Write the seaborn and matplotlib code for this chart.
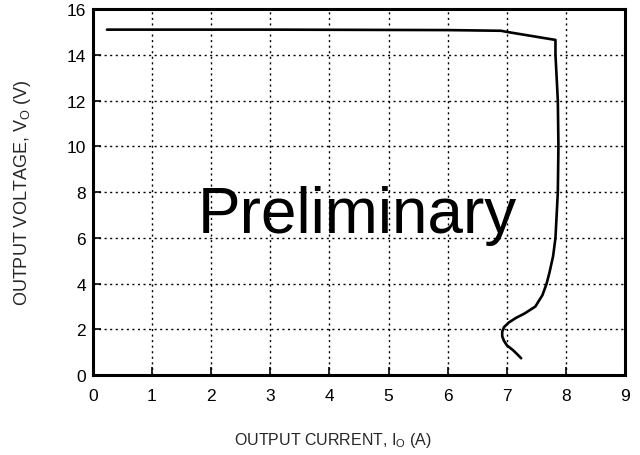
import matplotlib as mpl
mpl.use("Agg")
import matplotlib.pyplot as plt
import seaborn as sns
import pandas as pd

# output current (A) vs output voltage (V)
current = [0.24, 3.0, 6.0, 6.9, 7.0, 7.82, 7.82, 7.86, 7.87, 7.86, 7.84, 7.82,
           7.78, 7.72, 7.67, 7.6, 7.48, 7.3, 7.15, 7.03, 6.95, 6.92, 6.92,
           6.95, 7.0, 7.1, 7.18, 7.24]
voltage = [15.1, 15.1, 15.08, 15.05, 15.0, 14.65, 14.0, 12.0, 10.0, 8.0, 7.0, 6.0,
           5.2, 4.5, 4.0, 3.5, 3.0, 2.7, 2.5, 2.3, 2.1, 1.9, 1.7,
           1.5, 1.3, 1.1, 0.9, 0.74]
x_ticks = list(range(0, 10))
y_ticks = list(range(0, 17, 2))

sns.set_theme(style="white")
plt.rcParams["font.family"] = ["Liberation Sans", "DejaVu Sans"]
plt.rcParams["mathtext.fontset"] = "custom"
plt.rcParams["mathtext.rm"] = "Liberation Sans"

df = pd.DataFrame({"current": current, "voltage": voltage})

fig, ax = plt.subplots(figsize=(6.4, 4.56), dpi=100)
fig.subplots_adjust(left=0.145, right=0.977, top=0.978, bottom=0.175)

sns.lineplot(data=df, x="current", y="voltage", sort=False, estimator=None,
             color="black", linewidth=1.9, ax=ax)

ax.set_xlim(0, 9)
ax.set_ylim(0, 16)
ax.set_xticks(x_ticks)
ax.set_yticks(y_ticks)
ax.grid(True, color="black", linestyle=(0, (1.5, 2.5)), linewidth=1.0)
for s in ax.spines.values():
    s.set_color("black")
    s.set_linewidth(2.2)
ax.tick_params(direction="in", length=6, width=1.2, colors="black",
               labelsize=12.5, bottom=True, left=True)
ax.tick_params(axis="x", pad=9)
ax.tick_params(axis="y", pad=5)

ax.set_xlabel("OUTPUT CURRENT, I$_\\mathregular{O}$ (A)", fontsize=11.5)
ax.set_ylabel("OUTPUT VOLTAGE, V$_\\mathregular{O}$ (V)", fontsize=13)
ax.xaxis.set_label_coords(0.451, -0.15)
ax.yaxis.set_label_coords(-0.112, 0.5)

ax.text(4.47, 7.0, "Preliminary", fontsize=46, ha="center", va="center", color="black")

fig.savefig("out.png", dpi=100)
